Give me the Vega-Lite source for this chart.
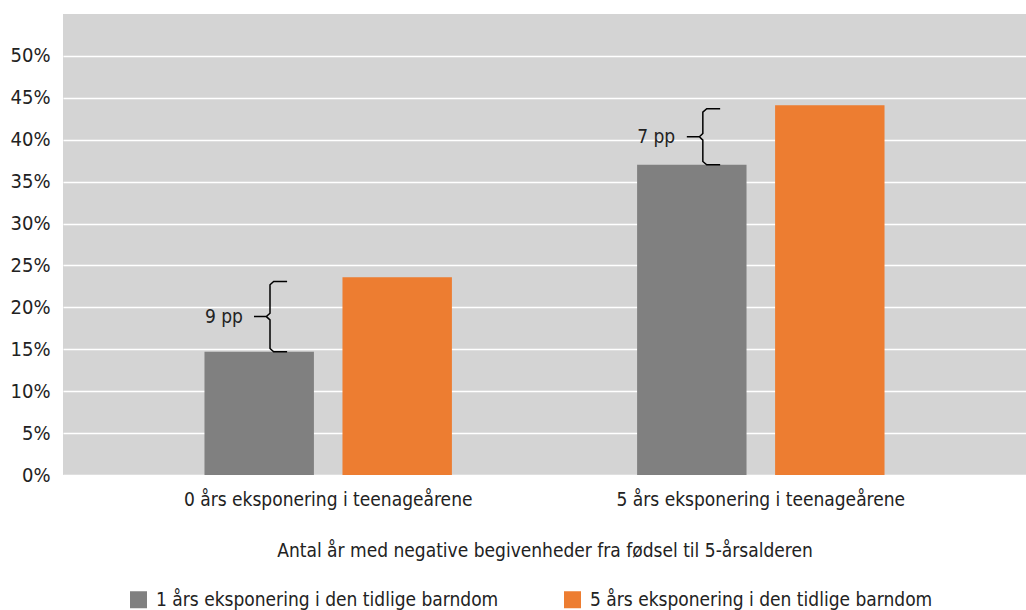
{
  "$schema": "https://vega.github.io/schema/vega-lite/v6.json",
  "width": 963,
  "height": 461,
  "padding": {"left": 63, "top": 14, "right": 0, "bottom": 135},
  "autosize": {"type": "none"},
  "background": "white",
  "config": {
    "view": {"fill": "#d4d4d4", "stroke": null},
    "font": "DejaVu Sans Condensed, Roboto",
    "axis": {"labelColor": "#222222", "titleColor": "#222222", "titleFontWeight": "normal"}
  },
  "datasets": {
    "bars": [
      {"group": "0 års eksponering i teenageårene", "series": "1 års eksponering i den tidlige barndom", "value": 0.147},
      {"group": "0 års eksponering i teenageårene", "series": "5 års eksponering i den tidlige barndom", "value": 0.236},
      {"group": "5 års eksponering i teenageårene", "series": "1 års eksponering i den tidlige barndom", "value": 0.370},
      {"group": "5 års eksponering i teenageårene", "series": "5 års eksponering i den tidlige barndom", "value": 0.441}
    ],
    "brace": [
      {"brace": "a", "i": 1, "x": 0.518, "y": 0.231},
      {"brace": "a", "i": 2, "x": 0.487, "y": 0.231},
      {"brace": "a", "i": 3, "x": 0.4785, "y": 0.227},
      {"brace": "a", "i": 4, "x": 0.4785, "y": 0.193},
      {"brace": "a", "i": 5, "x": 0.470, "y": 0.189},
      {"brace": "a", "i": 6, "x": 0.4415, "y": 0.189},
      {"brace": "a", "i": 7, "x": 0.470, "y": 0.189},
      {"brace": "a", "i": 8, "x": 0.4785, "y": 0.185},
      {"brace": "a", "i": 9, "x": 0.4785, "y": 0.151},
      {"brace": "a", "i": 10, "x": 0.487, "y": 0.147},
      {"brace": "a", "i": 11, "x": 0.518, "y": 0.147},
      {"brace": "b", "i": 1, "x": 1.519, "y": 0.437},
      {"brace": "b", "i": 2, "x": 1.488, "y": 0.437},
      {"brace": "b", "i": 3, "x": 1.479, "y": 0.433},
      {"brace": "b", "i": 4, "x": 1.479, "y": 0.4075},
      {"brace": "b", "i": 5, "x": 1.471, "y": 0.4035},
      {"brace": "b", "i": 6, "x": 1.442, "y": 0.4035},
      {"brace": "b", "i": 7, "x": 1.471, "y": 0.4035},
      {"brace": "b", "i": 8, "x": 1.479, "y": 0.3995},
      {"brace": "b", "i": 9, "x": 1.479, "y": 0.374},
      {"brace": "b", "i": 10, "x": 1.488, "y": 0.370},
      {"brace": "b", "i": 11, "x": 1.519, "y": 0.370}
    ],
    "labels": [
      {"label": "9 pp", "x": 0.416, "y": 0.189},
      {"label": "7 pp", "x": 1.415, "y": 0.4035}
    ]
  },
  "layer": [
    {
      "data": {"name": "bars"},
      "mark": {"type": "bar"},
      "encoding": {
        "x": {
          "field": "group", "type": "nominal", "sort": null,
          "scale": {"paddingInner": 0, "paddingOuter": 0.113},
          "axis": {
            "title": "Antal år med negative begivenheder fra fødsel til 5-årsalderen",
            "labelAngle": 0, "labelFontSize": 19, "ticks": false, "domain": false,
            "labelPadding": 15, "titleFontSize": 19, "titlePadding": 32, "labelLimit": 500
          }
        },
        "xOffset": {
          "field": "series", "type": "nominal", "sort": null,
          "scale": {"paddingInner": 0.207, "paddingOuter": 0.671}
        },
        "y": {
          "field": "value", "type": "quantitative",
          "scale": {"domain": [0, 0.55], "nice": false},
          "axis": {
            "title": null, "values": [0, 0.05, 0.1, 0.15, 0.2, 0.25, 0.3, 0.35, 0.4, 0.45, 0.5],
            "format": ".0%", "grid": true, "gridColor": "#ffffff", "gridWidth": 1.5,
            "domain": false, "ticks": false, "labelPadding": 13, "labelFontSize": 20
          }
        },
        "color": {
          "field": "series", "type": "nominal", "sort": null,
          "scale": {"range": ["#808080", "#ED7D31"]},
          "legend": {
            "orient": "none", "legendX": 66, "legendY": 576, "direction": "horizontal",
            "title": null, "symbolType": "square", "symbolSize": 289, "symbolStrokeWidth": 0,
            "labelFontSize": 19, "labelColor": "#222222", "columnPadding": 64,
            "labelOffset": 8, "padding": 0, "labelLimit": 500
          }
        }
      }
    },
    {
      "data": {"name": "brace"},
      "mark": {"type": "line", "color": "#000000", "strokeWidth": 1.5},
      "encoding": {
        "x": {"field": "x", "type": "quantitative", "scale": {"domain": [0, 2.226], "nice": false, "zero": false}, "axis": null},
        "y": {"field": "y", "type": "quantitative", "title": null},
        "detail": {"field": "brace"},
        "order": {"field": "i", "type": "quantitative"}
      }
    },
    {
      "data": {"name": "labels"},
      "mark": {"type": "text", "align": "right", "baseline": "middle", "fontSize": 19, "color": "#222222"},
      "encoding": {
        "x": {"field": "x", "type": "quantitative", "scale": {"domain": [0, 2.226], "nice": false, "zero": false}, "axis": null},
        "y": {"field": "y", "type": "quantitative", "title": null},
        "text": {"field": "label"}
      }
    }
  ],
  "resolve": {"scale": {"x": "independent"}}
}
